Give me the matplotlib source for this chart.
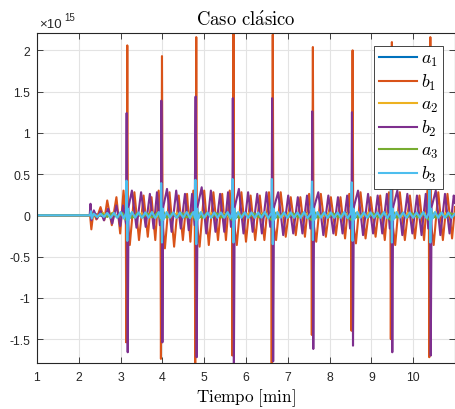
import matplotlib
matplotlib.use("Agg")
import matplotlib.pyplot as plt
from matplotlib.ticker import FixedLocator, FixedFormatter

plt.rcParams["mathtext.fontset"] = "cm"
plt.rcParams["font.family"] = ["Liberation Sans", "DejaVu Sans"]

# Signal samples (time in min, amplitude in units of 1e15)
b1_pts = [
    (1.00, 0), (2.27, 0), (2.30, -0.17), (2.35, 0.04), (2.42, -0.05), (2.52, 0.10), (2.61, -0.06),
    (2.68, 0.18), (2.79, -0.12), (2.90, 0.22), (2.99, -0.22), (3.07, 0.30), (3.125, -0.05),
    (3.135, -1.54), (3.16, 2.06), (3.175, -0.10),
    (3.22, -0.36), (3.33, 0.28), (3.44, -0.30), (3.55, 0.24), (3.65, -0.26), (3.74, 0.22),
    (3.83, -0.30), (3.91, 0.30), (3.955, -0.05),
    (3.965, -1.74), (3.99, 1.93), (4.005, -0.10),
    (4.06, -0.40), (4.17, 0.28), (4.28, -0.38), (4.39, 0.24), (4.49, -0.30), (4.59, 0.26),
    (4.67, -0.32), (4.74, 0.30), (4.775, -0.05),
    (4.785, -1.85), (4.81, 2.16), (4.825, -0.10),
    (4.89, -0.38), (5.00, 0.30), (5.11, -0.36), (5.22, 0.28), (5.33, -0.30), (5.43, 0.26),
    (5.52, -0.30), (5.61, 0.30), (5.665, -0.05),
    (5.675, -1.70), (5.70, 2.25), (5.715, -0.10),
    (5.78, -0.36), (5.89, 0.28), (6.00, -0.32), (6.11, 0.24), (6.22, -0.30), (6.33, 0.24),
    (6.44, -0.30), (6.55, 0.28), (6.605, -0.05),
    (6.615, -1.85), (6.64, 2.19), (6.655, -0.10),
    (6.72, -0.30), (6.83, 0.28), (6.95, -0.26), (7.07, 0.22), (7.19, -0.24), (7.30, 0.22),
    (7.41, -0.26), (7.51, 0.26), (7.565, -0.05),
    (7.575, -1.45), (7.60, 2.04), (7.615, -0.10),
    (7.68, -0.32), (7.79, 0.26), (7.91, -0.26), (8.03, 0.22), (8.15, -0.24), (8.26, 0.22),
    (8.37, -0.28), (8.47, 0.26), (8.515, -0.05),
    (8.525, -1.40), (8.55, 2.00), (8.565, -0.10),
    (8.63, -0.34), (8.74, 0.28), (8.86, -0.28), (8.98, 0.22), (9.10, -0.26), (9.21, 0.24),
    (9.32, -0.30), (9.42, 0.28), (9.455, -0.05),
    (9.465, -1.50), (9.49, 2.10), (9.505, -0.10),
    (9.57, -0.36), (9.68, 0.28), (9.80, -0.30), (9.92, 0.24), (10.04, -0.28), (10.15, 0.24),
    (10.26, -0.30), (10.34, 0.30), (10.375, -0.05),
    (10.385, -1.72), (10.41, 2.16), (10.425, -0.10),
    (10.49, -0.36), (10.60, 0.28), (10.71, -0.30), (10.82, 0.26), (10.93, -0.28),
    (11.00, 0.10),
]

b2_pts = [
    (1.00, 0), (2.26, 0), (2.28, 0.14), (2.30, -0.06), (2.36, 0.06), (2.44, -0.04), (2.52, 0.05),
    (2.60, -0.06), (2.70, 0.08), (2.80, -0.10), (2.90, 0.12), (2.99, -0.13), (3.06, 0.12),
    (3.13, -0.10),
    (3.145, 1.24), (3.17, -1.66), (3.19, 0.10),
    (3.27, 0.30), (3.38, -0.15), (3.49, 0.28), (3.60, -0.14), (3.70, 0.26), (3.79, -0.16),
    (3.87, 0.28), (3.94, -0.12), (3.965, 0.10),
    (3.975, 1.39), (4.00, -1.54), (4.02, 0.10),
    (4.11, 0.32), (4.22, -0.20), (4.33, 0.30), (4.44, -0.16), (4.54, 0.26), (4.63, -0.18),
    (4.71, 0.26), (4.77, -0.12),
    (4.795, 1.44), (4.82, -1.72), (4.84, 0.10),
    (4.94, 0.34), (5.05, -0.22), (5.16, 0.30), (5.27, -0.20), (5.38, 0.26), (5.48, -0.20),
    (5.57, 0.28), (5.64, -0.14), (5.675, 0.10),
    (5.685, 1.42), (5.71, -1.85), (5.73, 0.10),
    (5.83, 0.32), (5.94, -0.22), (6.05, 0.28), (6.16, -0.20), (6.27, 0.26), (6.38, -0.22),
    (6.49, 0.28), (6.58, -0.14), (6.615, 0.10),
    (6.625, 1.42), (6.65, -1.77), (6.67, 0.10),
    (6.77, 0.28), (6.89, -0.24), (7.01, 0.24), (7.13, -0.22), (7.24, 0.22), (7.35, -0.22),
    (7.46, 0.24), (7.54, -0.16), (7.575, 0.10),
    (7.585, 1.26), (7.61, -1.62), (7.63, 0.10),
    (7.73, 0.28), (7.85, -0.24), (7.97, 0.24), (8.09, -0.22), (8.20, 0.22), (8.31, -0.22),
    (8.42, 0.24), (8.49, -0.16), (8.525, 0.10),
    (8.535, 1.25), (8.56, -1.58), (8.58, 0.10),
    (8.68, 0.30), (8.80, -0.24), (8.92, 0.26), (9.04, -0.22), (9.15, 0.24), (9.26, -0.22),
    (9.37, 0.26), (9.44, -0.16), (9.465, 0.10),
    (9.475, 1.22), (9.50, -1.66), (9.52, 0.10),
    (9.62, 0.30), (9.74, -0.24), (9.86, 0.26), (9.98, -0.22), (10.09, 0.24), (10.20, -0.24),
    (10.30, 0.26), (10.36, -0.16), (10.385, 0.10),
    (10.395, 1.17), (10.42, -1.70), (10.44, 0.10),
    (10.54, 0.30), (10.65, -0.24), (10.76, 0.26), (10.87, -0.22), (10.97, 0.24), (11.00, 0.15),
]

b3_pts = [
    (1.00, 0), (2.27, 0), (2.29, 0.05), (2.31, -0.04), (2.36, 0.02), (2.44, -0.02), (2.52, 0.02),
    (2.60, -0.02), (2.68, 0.03), (2.76, -0.03), (2.84, 0.03), (2.92, -0.03), (3.00, 0.04),
    (3.08, -0.04), (3.13, 0.03),
    (3.14, 0.42), (3.16, -0.31), (3.18, 0.08), (3.20, -0.05),
    (3.27, 0.04), (3.35, -0.03), (3.43, 0.035), (3.51, -0.03), (3.59, 0.035), (3.67, -0.03),
    (3.75, 0.04), (3.83, -0.035), (3.91, 0.04), (3.96, -0.03),
    (3.97, 0.39), (3.99, -0.33), (4.01, 0.08), (4.03, -0.05),
    (4.10, 0.04), (4.18, -0.03), (4.26, 0.035), (4.34, -0.03), (4.42, 0.035), (4.50, -0.03),
    (4.58, 0.04), (4.66, -0.035), (4.74, 0.04), (4.78, -0.03),
    (4.79, 0.43), (4.81, -0.35), (4.83, 0.08), (4.85, -0.05),
    (4.92, 0.04), (5.00, -0.03), (5.08, 0.035), (5.16, -0.03), (5.24, 0.035), (5.32, -0.03),
    (5.40, 0.035), (5.48, -0.03), (5.56, 0.04), (5.63, -0.035), (5.67, 0.03),
    (5.68, 0.44), (5.70, -0.33), (5.72, 0.08), (5.74, -0.05),
    (5.81, 0.04), (5.89, -0.03), (5.97, 0.035), (6.05, -0.03), (6.13, 0.035), (6.21, -0.03),
    (6.29, 0.035), (6.37, -0.03), (6.45, 0.04), (6.53, -0.035), (6.61, 0.03),
    (6.62, 0.44), (6.64, -0.35), (6.66, 0.08), (6.68, -0.05),
    (6.75, 0.04), (6.83, -0.03), (6.91, 0.035), (6.99, -0.03), (7.07, 0.035), (7.15, -0.03),
    (7.23, 0.035), (7.31, -0.03), (7.39, 0.04), (7.47, -0.035), (7.56, 0.03),
    (7.58, 0.41), (7.60, -0.30), (7.62, 0.08), (7.64, -0.05),
    (7.71, 0.04), (7.79, -0.03), (7.87, 0.035), (7.95, -0.03), (8.03, 0.035), (8.11, -0.03),
    (8.19, 0.035), (8.27, -0.03), (8.35, 0.04), (8.43, -0.035), (8.51, 0.03),
    (8.53, 0.40), (8.55, -0.31), (8.57, 0.08), (8.59, -0.05),
    (8.66, 0.04), (8.74, -0.03), (8.82, 0.035), (8.90, -0.03), (8.98, 0.035), (9.06, -0.03),
    (9.14, 0.035), (9.22, -0.03), (9.30, 0.04), (9.38, -0.035), (9.45, 0.03),
    (9.47, 0.41), (9.49, -0.33), (9.51, 0.08), (9.53, -0.05),
    (9.60, 0.04), (9.68, -0.03), (9.76, 0.035), (9.84, -0.03), (9.92, 0.035), (10.00, -0.03),
    (10.08, 0.035), (10.16, -0.03), (10.24, 0.04), (10.32, -0.035), (10.37, 0.03),
    (10.39, 0.40), (10.41, -0.33), (10.43, 0.08), (10.45, -0.05),
    (10.52, 0.04), (10.60, -0.03), (10.68, 0.035), (10.76, -0.03), (10.84, 0.035), (10.92, -0.03),
    (11.00, 0.02),
]

a3_pts = [
    (1.00, 0), (2.28, 0), (2.32, 0.02), (2.44, -0.02), (2.56, 0.02), (2.68, -0.02), (2.80, 0.025),
    (2.92, -0.025), (3.04, 0.03), (3.14, -0.06), (3.17, 0.06),
    (3.28, -0.03), (3.40, 0.025), (3.52, -0.025), (3.64, 0.025), (3.76, -0.025), (3.88, 0.03),
    (3.97, -0.06), (4.00, 0.06),
    (4.11, -0.03), (4.23, 0.025), (4.35, -0.025), (4.47, 0.025), (4.59, -0.025), (4.71, 0.03),
    (4.79, -0.06), (4.82, 0.06),
    (4.94, -0.03), (5.06, 0.025), (5.18, -0.025), (5.30, 0.025), (5.42, -0.025), (5.54, 0.025),
    (5.62, -0.03), (5.68, -0.06), (5.71, 0.06),
    (5.83, -0.03), (5.95, 0.025), (6.07, -0.025), (6.19, 0.025), (6.31, -0.025), (6.43, 0.025),
    (6.55, -0.03), (6.62, -0.06), (6.65, 0.06),
    (6.77, -0.03), (6.89, 0.025), (7.01, -0.025), (7.13, 0.025), (7.25, -0.025), (7.37, 0.025),
    (7.49, -0.03), (7.58, -0.06), (7.61, 0.06),
    (7.73, -0.03), (7.85, 0.025), (7.97, -0.025), (8.09, 0.025), (8.21, -0.025), (8.33, 0.025),
    (8.45, -0.03), (8.53, -0.06), (8.56, 0.06),
    (8.68, -0.03), (8.80, 0.025), (8.92, -0.025), (9.04, 0.025), (9.16, -0.025), (9.28, 0.025),
    (9.40, -0.03), (9.47, -0.06), (9.50, 0.06),
    (9.62, -0.03), (9.74, 0.025), (9.86, -0.025), (9.98, 0.025), (10.10, -0.025), (10.22, 0.025),
    (10.33, -0.03), (10.39, -0.06), (10.42, 0.06),
    (10.54, -0.03), (10.66, 0.025), (10.78, -0.025), (10.90, 0.025), (11.00, 0.0),
]

a2_pts = [
    (1.00, 0), (2.28, 0), (2.34, 0.03), (2.46, -0.01), (2.58, 0.03), (2.70, -0.01), (2.82, 0.035),
    (2.94, -0.015), (3.06, 0.04), (3.15, 0.08), (3.18, -0.05),
    (3.30, 0.04), (3.42, -0.01), (3.54, 0.035), (3.66, -0.01), (3.78, 0.035), (3.90, -0.015),
    (3.98, 0.08), (4.01, -0.05),
    (4.13, 0.04), (4.25, -0.01), (4.37, 0.035), (4.49, -0.01), (4.61, 0.035), (4.72, -0.015),
    (4.80, 0.08), (4.83, -0.05),
    (4.96, 0.04), (5.08, -0.01), (5.20, 0.035), (5.32, -0.01), (5.44, 0.035), (5.56, -0.015),
    (5.69, 0.08), (5.72, -0.05),
    (5.85, 0.04), (5.97, -0.01), (6.09, 0.035), (6.21, -0.01), (6.33, 0.035), (6.45, -0.015),
    (6.63, 0.08), (6.66, -0.05),
    (6.79, 0.04), (6.91, -0.01), (7.03, 0.035), (7.15, -0.01), (7.27, 0.035), (7.39, -0.015),
    (7.59, 0.08), (7.62, -0.05),
    (7.75, 0.04), (7.87, -0.01), (7.99, 0.035), (8.11, -0.01), (8.23, 0.035), (8.35, -0.015),
    (8.54, 0.08), (8.57, -0.05),
    (8.70, 0.04), (8.82, -0.01), (8.94, 0.035), (9.06, -0.01), (9.18, 0.035), (9.30, -0.015),
    (9.48, 0.08), (9.51, -0.05),
    (9.64, 0.04), (9.76, -0.01), (9.88, 0.035), (10.00, -0.01), (10.12, 0.035), (10.24, -0.015),
    (10.40, 0.08), (10.43, -0.05),
    (10.56, 0.04), (10.68, -0.01), (10.80, 0.035), (10.92, -0.01), (11.00, 0.02),
]

a1_pts = [
    (1.00, 0), (2.28, 0), (2.40, 0.015), (2.60, -0.015), (2.80, 0.015), (3.00, -0.015),
    (3.15, 0.04), (3.17, -0.04), (3.40, 0.015), (3.60, -0.015), (3.80, 0.015), (3.98, 0.04),
    (4.00, -0.04), (4.20, 0.015), (4.40, -0.015), (4.60, 0.015), (4.80, 0.04), (4.82, -0.04),
    (5.05, 0.015), (5.25, -0.015), (5.45, 0.015), (5.69, 0.04), (5.71, -0.04), (5.95, 0.015),
    (6.15, -0.015), (6.35, 0.015), (6.63, 0.04), (6.65, -0.04), (6.90, 0.015), (7.10, -0.015),
    (7.30, 0.015), (7.59, 0.04), (7.61, -0.04), (7.85, 0.015), (8.05, -0.015), (8.25, 0.015),
    (8.54, 0.04), (8.56, -0.04), (8.80, 0.015), (9.00, -0.015), (9.20, 0.015), (9.48, 0.04),
    (9.50, -0.04), (9.75, 0.015), (9.95, -0.015), (10.15, 0.015), (10.40, 0.04), (10.42, -0.04),
    (10.65, 0.015), (10.85, -0.015), (11.00, 0.0),
]

series = [
    (r"$a_1$", a1_pts, "#0072BD"),
    (r"$b_1$", b1_pts, "#D95319"),
    (r"$a_2$", a2_pts, "#EDB120"),
    (r"$b_2$", b2_pts, "#7E2F8E"),
    (r"$a_3$", a3_pts, "#77AC30"),
    (r"$b_3$", b3_pts, "#4DBEEE"),
]

x_ticks = [1, 2, 3, 4, 5, 6, 7, 8, 9, 10]
y_ticks = [-1.5, -1, -0.5, 0, 0.5, 1, 1.5, 2]
y_tick_labels = ["-1.5", "-1", "-0.5", "0", "0.5", "1", "1.5", "2"]

axis_color = "#262626"

fig = plt.figure(figsize=(4.56, 4.10), dpi=100)
ax = fig.add_axes([37 / 456, 1 - 364 / 410, 418 / 456, 330 / 410])

for label, pts, color in series:
    t = [p[0] for p in pts]
    v = [p[1] for p in pts]
    ax.plot(t, v, color=color, lw=1.5, label=label)

ax.set_xlim(1, 11)
ax.set_ylim(-1.79, 2.21)

ax.xaxis.set_major_locator(FixedLocator(x_ticks))
ax.yaxis.set_major_locator(FixedLocator(y_ticks))
ax.yaxis.set_major_formatter(FixedFormatter(y_tick_labels))

ax.grid(True, color="#e3e3e3", lw=0.8)
ax.set_axisbelow(True)
ax.tick_params(direction="in", length=4, width=0.6, colors=axis_color,
               labelsize=8.8, top=True, right=True)
ax.tick_params(axis="y", pad=5)
ax.tick_params(axis="x", pad=6)
for s in ax.spines.values():
    s.set_color(axis_color)
    s.set_linewidth(0.8)

ax.set_title(r"$\mathrm{Caso\ cl\acute{a}sico}$", fontsize=13.5, pad=6, color="black")
ax.set_xlabel(r"$\mathrm{Tiempo\ [min]}$", fontsize=12.3, labelpad=2, color="black")

# exponent label above the y axis
ax.text(0.004, 1.008, "\u00d710", transform=ax.transAxes, fontsize=9.5,
        color=axis_color, ha="left", va="bottom")
ax.text(0.066, 1.033, "15", transform=ax.transAxes, fontsize=7,
        color=axis_color, ha="left", va="bottom")

leg = ax.legend(loc="upper right", bbox_to_anchor=((443 - 37) / 418, 1 - (46.7 - 34) / 330),
                borderaxespad=0, fontsize=13, handlelength=2.1, handletextpad=0.25,
                labelspacing=0.22, borderpad=0.25, fancybox=False, framealpha=1,
                edgecolor=axis_color)
leg.get_frame().set_linewidth(0.6)

fig.savefig("out.png", dpi=100)
